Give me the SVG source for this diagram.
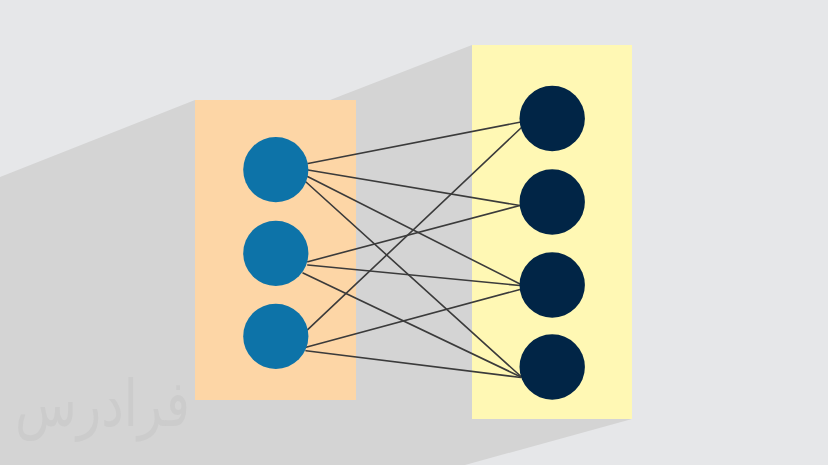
<svg xmlns="http://www.w3.org/2000/svg" width="828" height="465" viewBox="0 0 828 465">
  <style>
    .in { fill: #0d73a8; }
    .out { fill: #012546; }
    .conn line { stroke: #3b3b3b; stroke-width: 1.6; stroke-linecap: round; }
    .wm { font-family: "DejaVu Sans", "Noto Sans", sans-serif; font-size: 64px; fill: #cccccc; }
  </style>
  <rect x="0" y="0" width="828" height="465" fill="#e6e7e9"/>
  <polygon id="shadow" points="0,177 195,100 330,100 472,45 632,45 632,419 465,465 0,465" fill="#d4d4d4"/>
  <text class="wm" x="15" y="426" textLength="175" lengthAdjust="spacingAndGlyphs">فرادرس</text>
  <rect id="input-layer" x="195" y="100" width="161" height="300" fill="#fdd6a6"/>
  <rect id="output-layer" x="472" y="45" width="160" height="374" fill="#fff8b4"/>
  <g id="connectors" class="conn">
    <line x1="308" y1="163.5" x2="521" y2="122"/>
    <line x1="308" y1="170" x2="520" y2="205.5"/>
    <line x1="307.5" y1="176.5" x2="520" y2="284"/>
    <line x1="306" y1="182" x2="521" y2="376.5"/>
    <line x1="307.8" y1="261.7" x2="520" y2="205.5"/>
    <line x1="307.8" y1="265" x2="520" y2="285.5"/>
    <line x1="303" y1="273" x2="521" y2="377"/>
    <line x1="307.7" y1="329.7" x2="521.5" y2="127.5"/>
    <line x1="306" y1="347.3" x2="520" y2="289.5"/>
    <line x1="306" y1="350.7" x2="521" y2="377.5"/>
  </g>
  <g id="in1"><circle class="in" cx="275.8" cy="169.7" r="32.6"/></g>
  <g id="in2"><circle class="in" cx="275.8" cy="253.3" r="32.6"/></g>
  <g id="in3"><circle class="in" cx="275.8" cy="336.3" r="32.6"/></g>
  <g id="out1"><circle class="out" cx="552.2" cy="118.5" r="32.7"/></g>
  <g id="out2"><circle class="out" cx="552.2" cy="202" r="32.7"/></g>
  <g id="out3"><circle class="out" cx="552.2" cy="285" r="32.7"/></g>
  <g id="out4"><circle class="out" cx="552.2" cy="367" r="32.7"/></g>
</svg>
